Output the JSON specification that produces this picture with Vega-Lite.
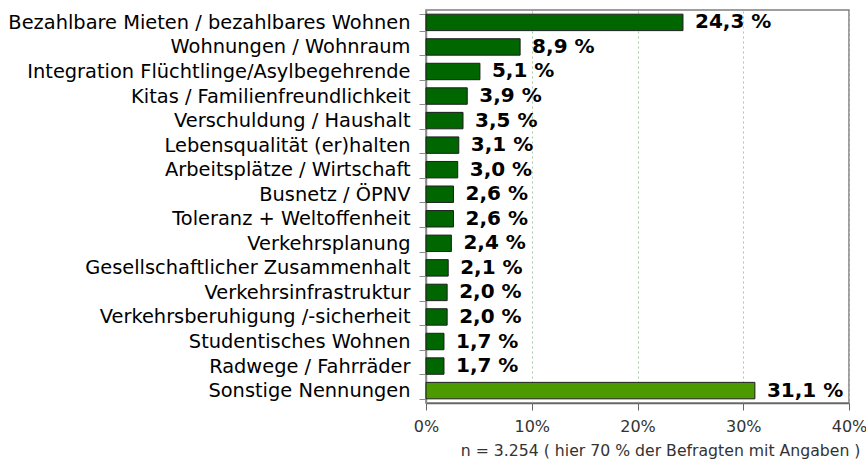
{
  "$schema": "https://vega.github.io/schema/vega-lite/v6.json",
  "width": 423,
  "height": 393,
  "autosize": {"type": "none"},
  "padding": {"left": 426, "top": 10, "right": 17, "bottom": 58},
  "background": "white",
  "config": {
    "font": "DejaVu Sans",
    "view": {"stroke": "#7f7f7f", "strokeWidth": 1.5}
  },
  "data": {
    "values": [
      {"thema": "Bezahlbare Mieten / bezahlbares Wohnen", "wert": 24.3, "gruppe": "Themen"},
      {"thema": "Wohnungen / Wohnraum", "wert": 8.9, "gruppe": "Themen"},
      {"thema": "Integration Flüchtlinge/Asylbegehrende", "wert": 5.1, "gruppe": "Themen"},
      {"thema": "Kitas / Familienfreundlichkeit", "wert": 3.9, "gruppe": "Themen"},
      {"thema": "Verschuldung / Haushalt", "wert": 3.5, "gruppe": "Themen"},
      {"thema": "Lebensqualität (er)halten", "wert": 3.1, "gruppe": "Themen"},
      {"thema": "Arbeitsplätze / Wirtschaft", "wert": 3.0, "gruppe": "Themen"},
      {"thema": "Busnetz / ÖPNV", "wert": 2.6, "gruppe": "Themen"},
      {"thema": "Toleranz + Weltoffenheit", "wert": 2.6, "gruppe": "Themen"},
      {"thema": "Verkehrsplanung", "wert": 2.4, "gruppe": "Themen"},
      {"thema": "Gesellschaftlicher Zusammenhalt", "wert": 2.1, "gruppe": "Themen"},
      {"thema": "Verkehrsinfrastruktur", "wert": 2.0, "gruppe": "Themen"},
      {"thema": "Verkehrsberuhigung /-sicherheit", "wert": 2.0, "gruppe": "Themen"},
      {"thema": "Studentisches Wohnen", "wert": 1.7, "gruppe": "Themen"},
      {"thema": "Radwege / Fahrräder", "wert": 1.7, "gruppe": "Themen"},
      {"thema": "Sonstige Nennungen", "wert": 31.1, "gruppe": "Sonstige"}
    ]
  },
  "transform": [
    {"calculate": "replace(format(datum.wert, '.1f'), '.', ',') + ' %'", "as": "etikett"}
  ],
  "encoding": {
    "y": {
      "field": "thema",
      "type": "nominal",
      "sort": null,
      "scale": {"paddingInner": 0.33, "paddingOuter": 0.17},
      "axis": {
        "title": null,
        "labelFontSize": 19.4,
        "labelColor": "#000000",
        "labelPadding": 9,
        "labelLimit": 440,
        "tickBand": "extent",
        "tickSize": 7,
        "tickColor": "#8c8c8c",
        "domainColor": "#8c8c8c",
        "domainWidth": 1.5
      }
    }
  },
  "layer": [
    {
      "mark": {"type": "bar", "stroke": "#1e1e1e", "strokeWidth": 1},
      "encoding": {
        "x": {
          "field": "wert",
          "type": "quantitative",
          "scale": {"domain": [0, 40], "nice": false},
          "axis": {
            "values": [0, 10, 20, 30, 40],
            "labelExpr": "datum.value + '%'",
            "labelFlush": false,
            "labelFontSize": 16,
            "labelColor": "#333333",
            "labelPadding": 8,
            "tickSize": 7,
            "tickColor": "#666666",
            "domainColor": "#666666",
            "domainWidth": 1.5,
            "grid": true,
            "gridColor": "#a8c8a8",
            "gridDash": [2, 3],
            "gridWidth": 1,
            "title": "n = 3.254 ( hier 70 % der Befragten mit Angaben )",
            "titleFontSize": 15.7,
            "titleFontWeight": "normal",
            "titleColor": "#333333",
            "titleAnchor": "end",
            "titleAlign": "right",
            "titleBaseline": "top",
            "titleX": 434,
            "titleY": 40
          }
        },
        "color": {
          "field": "gruppe",
          "type": "nominal",
          "scale": {"domain": ["Themen", "Sonstige"], "range": ["#006600", "#4c9900"]},
          "legend": null
        }
      }
    },
    {
      "mark": {"type": "text", "align": "left", "baseline": "middle", "dx": 12, "fontSize": 20, "fontWeight": "bold", "color": "#000000"},
      "encoding": {
        "x": {"field": "wert", "type": "quantitative"},
        "text": {"field": "etikett"}
      }
    }
  ]
}
